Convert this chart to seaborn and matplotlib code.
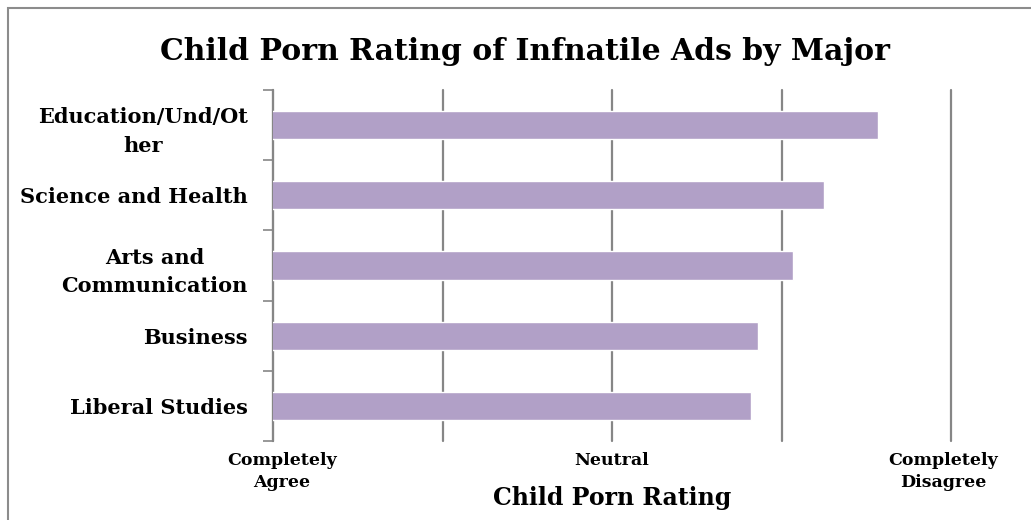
import matplotlib
matplotlib.use("Agg")
import matplotlib.pyplot as plt
import matplotlib.patches as mpatches
import matplotlib.transforms as mtransforms
import seaborn as sns
import pandas as pd

# Mean rating per major (1 = Completely Agree, 3 = Neutral, 5 = Completely Disagree)
majors = [
    "Education/Und/Ot\nher",
    "Science and Health",
    "Arts and\nCommunication",
    "Business",
    "Liberal Studies",
]
ratings = [4.57, 4.25, 4.07, 3.86, 3.82]
x_tick_values = [1, 2, 3, 4, 5]
x_tick_labels = ["Completely\nAgree", "", "Neutral", "", "Completely\nDisagree"]

title = "Child Porn Rating of Infnatile Ads by Major"
x_title = "Child Porn Rating"

bar_color = "#B1A0C7"
grid_color = "#868686"

sns.set_theme(style="white")
plt.rcParams["font.family"] = ["DejaVu Serif"]
plt.rcParams["font.weight"] = "bold"
plt.rcParams["text.color"] = "black"
plt.rcParams["xtick.color"] = "black"
plt.rcParams["ytick.color"] = "black"
plt.rcParams["axes.labelcolor"] = "black"

df = pd.DataFrame({"major": majors, "rating": ratings})

fig = plt.figure(figsize=(10.31, 5.20), dpi=100)
ax = fig.add_axes([273 / 1031, 1 - 441 / 520, (951 - 273) / 1031, (441 - 90) / 520])

sns.barplot(data=df, x="rating", y="major", color=bar_color, width=0.4,
            saturation=1, ax=ax, zorder=3)

ax.set_xlim(1, 5)
ax.set_ylim(len(majors) - 0.5, -0.5)

ax.set_xticks(x_tick_values)
ax.set_xticklabels(x_tick_labels, fontsize=12.5, fontweight="bold", linespacing=1.4)
ax.tick_params(axis="x", length=0, pad=8)
ax.xaxis.grid(True, color=grid_color, linewidth=1.6, zorder=0)
for gl in ax.get_xgridlines():
    gl.set_clip_on(False)
ax.yaxis.grid(False)

# end labels nudged inward so they stay inside the frame
labels = ax.get_xticklabels()
labels[0].set_transform(labels[0].get_transform()
                        + mtransforms.ScaledTranslation(9 / 100, 0, fig.dpi_scale_trans))
labels[-1].set_transform(labels[-1].get_transform()
                         + mtransforms.ScaledTranslation(-8 / 100, 0, fig.dpi_scale_trans))

# category labels centred in their bands, boundary ticks on the left
ax.set_yticks(range(len(majors)))
ax.set_yticklabels(majors, fontsize=15, fontweight="bold", multialignment="center",
                   linespacing=1.55)
ax.set_yticks([i - 0.5 for i in range(len(majors) + 1)], minor=True)
ax.tick_params(axis="y", which="major", length=0, pad=18)
ax.tick_params(axis="y", which="minor", length=7, width=1.2, color=grid_color, left=True)

for side in ["top", "right", "bottom"]:
    ax.spines[side].set_visible(False)
ax.spines["left"].set_color(grid_color)
ax.spines["left"].set_linewidth(1.5)

ax.set_xlabel(x_title, fontsize=17, fontweight="bold", labelpad=-4)
ax.set_ylabel("")

fig.text(525 / 1031, 1 - 52 / 520, title, ha="center", va="center",
         fontsize=21.5, fontweight="bold")

# chart-area frame
fig.patches.append(mpatches.Rectangle((8 / 1031, -0.1), 1.2, 1 - 8 / 520 + 0.1,
                                      transform=fig.transFigure, fill=False,
                                      edgecolor="#8c8c8c", linewidth=1.5))

fig.savefig("out.png", dpi=100)
